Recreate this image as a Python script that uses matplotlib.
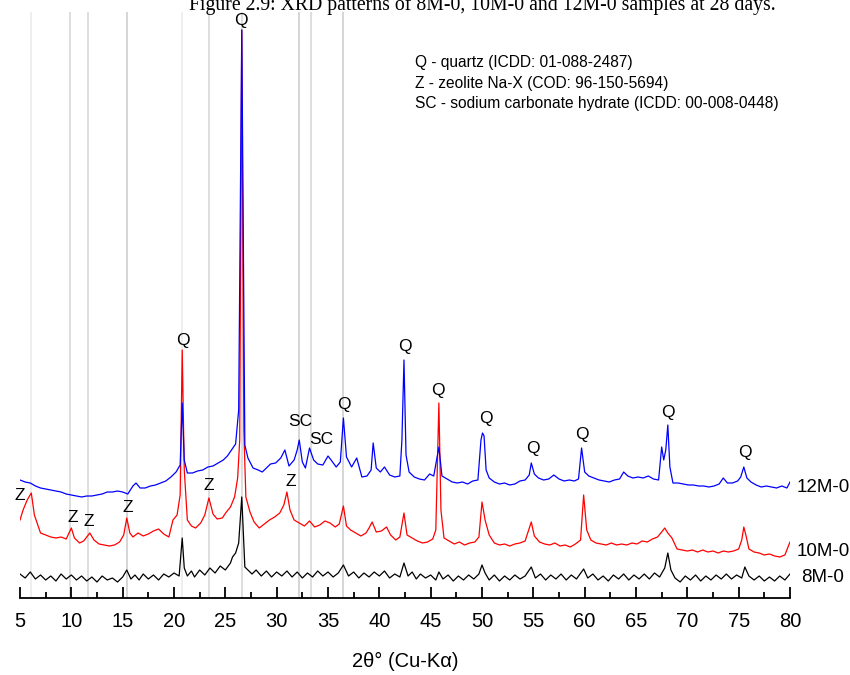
import matplotlib.pyplot as plt
from matplotlib.ticker import MultipleLocator

plt.rcParams['font.family'] = ['Liberation Sans', 'DejaVu Sans']

# 2theta (deg) and stacked intensity (a.u.)
tt_8m = [5.0, 5.5, 6.0, 6.5, 7.0, 7.5, 8.0, 8.5, 9.0, 9.5, 10.0, 10.5, 11.0, 11.5, 12.0, 12.5,
         13.0, 13.5, 14.0, 14.5, 15.0, 15.4, 15.8, 16.2, 16.6, 17.0, 17.5, 18.0, 18.5, 19.0,
         19.5, 20.0, 20.5, 20.8, 21.0, 21.3, 21.7, 22.0, 22.5, 23.0, 23.5, 24.0, 24.5, 25.0,
         25.5, 25.7, 26.0, 26.3, 26.6, 26.9, 27.2, 27.6, 28.0, 28.5, 29.0, 29.5, 30.0, 30.5,
         31.0, 31.5, 32.0, 32.5, 33.0, 33.5, 34.0, 34.5, 35.0, 35.5, 36.0, 36.5, 37.0, 37.5,
         38.0, 38.5, 39.0, 39.5, 40.0, 40.5, 41.0, 41.5, 42.0, 42.4, 42.8, 43.2, 43.6, 44.0,
         44.5, 45.0, 45.5, 45.8, 46.2, 46.7, 47.2, 47.7, 48.2, 48.7, 49.2, 49.7, 50.0, 50.3,
         50.7, 51.2, 51.7, 52.2, 52.7, 53.2, 53.7, 54.2, 54.8, 55.2, 55.7, 56.2, 56.7, 57.2,
         57.7, 58.2, 58.7, 59.2, 59.9, 60.3, 60.8, 61.3, 61.8, 62.3, 62.8, 63.3, 63.8, 64.3,
         64.8, 65.3, 65.8, 66.3, 66.8, 67.3, 67.8, 68.1, 68.4, 68.8, 69.3, 69.8, 70.3, 70.8,
         71.3, 71.8, 72.3, 72.8, 73.3, 73.8, 74.3, 74.8, 75.3, 75.6, 76.0, 76.5, 77.0, 77.5,
         78.0, 78.5, 79.0, 79.5, 80.0]
i_8m = [24, 20, 26, 19, 23, 18, 22, 17, 24, 19, 23, 18, 22, 17, 21, 16,
        22, 18, 20, 16, 21, 28, 19, 23, 18, 24, 19, 23, 18, 24,
        21, 25, 22, 60, 30, 22, 27, 21, 28, 23, 30, 25, 32, 28,
        35, 41, 45, 55, 101, 31, 28, 24, 28, 22, 27, 21, 26, 22,
        27, 21, 26, 20, 25, 21, 27, 22, 26, 21, 25, 33, 22, 26,
        20, 25, 21, 26, 22, 27, 20, 24, 21, 35, 22, 26, 19, 24,
        20, 23, 18, 26, 19, 23, 17, 22, 18, 23, 19, 24, 33, 25,
        18, 23, 17, 22, 18, 23, 19, 22, 31, 20, 24, 18, 23, 19,
        24, 18, 23, 19, 29, 20, 24, 18, 22, 17, 23, 19, 24, 18,
        23, 19, 24, 19, 25, 21, 30, 45, 28, 20, 16, 22, 18, 23,
        17, 22, 18, 23, 19, 24, 19, 23, 20, 31, 22, 18, 22, 17,
        21, 17, 22, 18, 24]

tt_10m = [5.0, 5.3, 5.7, 6.1, 6.4, 7.0, 7.5, 8.0, 8.5, 9.0, 9.5, 10.0, 10.3, 10.8, 11.2, 11.8,
          12.2, 12.7, 13.2, 13.7, 14.2, 14.7, 15.1, 15.4, 15.7, 16.0, 16.5, 17.0, 17.5, 18.0,
          18.5, 19.0, 19.5, 19.9, 20.3, 20.6, 20.8, 21.0, 21.3, 21.7, 22.1, 22.6, 23.0, 23.4,
          23.8, 24.2, 24.7, 25.1, 25.5, 25.9, 26.2, 26.4, 26.6, 26.8, 27.0, 27.4, 27.8, 28.3,
          28.8, 29.3, 29.8, 30.3, 30.7, 31.0, 31.3, 31.7, 32.2, 32.7, 33.2, 33.7, 34.2, 34.7,
          35.2, 35.7, 36.1, 36.5, 36.8, 37.2, 37.7, 38.2, 38.7, 39.0, 39.3, 39.7, 40.2, 40.7,
          41.1, 41.6, 42.0, 42.4, 42.7, 43.2, 43.7, 44.2, 44.7, 45.2, 45.5, 45.8, 46.0, 46.3,
          46.8, 47.3, 47.8, 48.3, 48.8, 49.3, 49.7, 50.0, 50.3, 50.7, 51.2, 51.7, 52.2, 52.7,
          53.2, 53.7, 54.2, 54.8, 55.1, 55.6, 56.1, 56.6, 57.1, 57.6, 58.1, 58.6, 59.1, 59.6,
          59.9, 60.2, 60.6, 61.1, 61.6, 62.1, 62.6, 63.1, 63.6, 64.1, 64.6, 65.1, 65.6, 66.1,
          66.6, 67.1, 67.5, 67.8, 68.1, 68.5, 69.0, 69.5, 70.0, 70.5, 71.0, 71.5, 72.0, 72.5,
          73.0, 73.5, 74.0, 74.5, 75.0, 75.3, 75.5, 75.7, 76.0, 76.5, 77.0, 77.5, 78.0, 78.5,
          79.0, 79.5, 80.0]
i_10m = [78, 88, 98, 105, 83, 65, 63, 61, 60, 61, 59, 70, 60, 55, 57, 65,
         58, 54, 53, 52, 53, 56, 63, 80, 65, 61, 65, 62, 64, 67,
         69, 64, 61, 78, 83, 103, 248, 128, 78, 72, 70, 75, 83, 100,
         84, 79, 80, 86, 91, 101, 120, 158, 568, 168, 101, 86, 76, 70,
         74, 78, 81, 85, 93, 106, 88, 78, 75, 72, 77, 71, 73, 77,
         75, 71, 74, 92, 72, 68, 65, 62, 65, 70, 76, 66, 67, 71,
         63, 58, 61, 85, 63, 60, 57, 55, 56, 59, 68, 195, 88, 60,
         57, 54, 56, 53, 55, 56, 61, 96, 78, 63, 55, 53, 54, 52,
         54, 55, 57, 76, 62, 56, 54, 53, 55, 52, 53, 51, 54, 58,
         103, 68, 58, 55, 54, 53, 55, 53, 54, 53, 55, 54, 57, 56,
         59, 61, 66, 70, 65, 60, 49, 48, 47, 48, 46, 48, 46, 47,
         45, 47, 46, 47, 49, 58, 71, 63, 49, 46, 45, 43, 44, 42,
         41, 43, 56]

tt_12m = [5.0, 5.5, 6.0, 6.5, 7.0, 7.5, 8.0, 8.5, 9.0, 9.5, 10.0, 10.5, 11.0, 11.5, 12.0, 12.5,
          13.0, 13.5, 14.0, 14.5, 15.0, 15.5, 16.0, 16.3, 16.7, 17.2, 17.7, 18.2, 18.7, 19.2,
          19.7, 20.2, 20.6, 20.8, 21.0, 21.3, 21.8, 22.3, 22.8, 23.3, 23.8, 24.3, 24.8, 25.2,
          25.6, 26.0, 26.3, 26.6, 26.9, 27.2, 27.7, 28.2, 28.6, 29.0, 29.4, 29.9, 30.4, 30.8,
          31.2, 31.7, 32.0, 32.2, 32.5, 32.8, 33.2, 33.6, 34.0, 34.5, 35.0, 35.3, 35.8, 36.2,
          36.5, 36.8, 37.3, 37.8, 38.3, 38.8, 39.2, 39.4, 39.7, 40.1, 40.5, 41.0, 41.5, 42.0,
          42.2, 42.4, 42.6, 42.9, 43.4, 43.9, 44.4, 44.9, 45.3, 45.8, 46.1, 46.6, 47.1, 47.6,
          48.1, 48.6, 49.1, 49.6, 49.9, 50.05, 50.2, 50.4, 50.7, 51.2, 51.7, 52.2, 52.7, 53.2,
          53.7, 54.2, 54.6, 54.8, 55.1, 55.5, 56.0, 56.5, 57.0, 57.5, 58.0, 58.5, 59.0, 59.4,
          59.7, 60.0, 60.4, 60.9, 61.4, 61.9, 62.4, 62.9, 63.4, 63.8, 64.2, 64.7, 65.2, 65.7,
          66.2, 66.7, 67.2, 67.5, 67.7, 67.9, 68.1, 68.3, 68.6, 69.1, 69.6, 70.1, 70.6, 71.1,
          71.6, 72.1, 72.6, 73.1, 73.5, 73.9, 74.4, 74.9, 75.2, 75.5, 75.8, 76.2, 76.7, 77.2,
          77.7, 78.2, 78.7, 79.2, 79.7, 80.0]
i_12m = [118, 116, 115, 112, 110, 109, 108, 107, 106, 104, 103, 102, 101, 102, 102, 103,
         104, 106, 106, 107, 106, 104, 112, 115, 110, 110, 112, 113, 115, 117,
         121, 126, 133, 195, 138, 125, 125, 127, 128, 131, 132, 135, 138, 142,
         148, 154, 188, 568, 153, 140, 130, 128, 126, 130, 134, 135, 140, 148,
         132, 138, 148, 158, 136, 130, 150, 138, 134, 133, 142, 138, 131, 136,
         180, 141, 131, 140, 121, 122, 128, 155, 130, 126, 131, 123, 121, 122,
         158, 238, 143, 126, 121, 119, 118, 124, 122, 151, 122, 119, 116, 115,
         116, 114, 117, 118, 158, 165, 162, 128, 120, 116, 114, 115, 113, 114,
         117, 118, 123, 135, 124, 120, 118, 119, 123, 119, 117, 118, 117, 119,
         150, 126, 122, 120, 118, 117, 116, 118, 119, 126, 122, 120, 121, 120,
         122, 119, 118, 151, 138, 148, 173, 131, 115, 115, 114, 113, 113, 112,
         112, 111, 112, 114, 120, 115, 115, 117, 121, 131, 120, 116, 113, 111,
         112, 111, 110, 112, 110, 116]

# reference phase lines (2theta)
ref_lines = [6.04, 9.87, 11.65, 15.45, 20.75, 23.41, 26.6, 32.2, 33.3, 36.43]
ref_shade = ['#ebebeb', '#d8d8d8', '#d8d8d8', '#cfcfcf', '#ebebeb', '#d8d8d8', '#d8d8d8',
             '#cfcfcf', '#d8d8d8', '#cfcfcf']

# peak labels: text, 2theta, height
peak_text = ['Q', 'Q', 'Q', 'SC', 'SC', 'Q', 'Q', 'Q', 'Q', 'Q', 'Q', 'Q',
             'Z', 'Z', 'Z', 'Z', 'Z', 'Z']
peak_x = [26.55, 20.9, 36.5, 32.3, 34.3, 42.5, 45.7, 50.4, 55.0, 59.7, 68.1, 75.6,
          5.0, 10.1, 11.7, 15.5, 23.4, 31.4]
peak_y = [578, 258, 194, 176, 158, 251, 207, 180, 150, 163, 186, 145,
          103, 80, 76, 90, 113, 117]

legend_lines = ['Q - quartz (ICDD: 01-088-2487)',
                'Z - zeolite Na-X (COD: 96-150-5694)',
                'SC - sodium carbonate hydrate (ICDD: 00-008-0448)']

fig = plt.figure(figsize=(8.5, 6.75), dpi=100)
ax = fig.add_axes([20 / 850, 77 / 675, 770 / 850, 586 / 675])

for xv, c in zip(ref_lines, ref_shade):
    ax.axvline(xv, color=c, lw=1.2, zorder=0)

ax.plot(tt_8m, i_8m, color='black', lw=0.9)
ax.plot(tt_10m, i_10m, color='#ff0000', lw=0.9)
ax.plot(tt_12m, i_12m, color='#0000ff', lw=0.9)

for t, xv, yv in zip(peak_text, peak_x, peak_y):
    ax.text(xv, yv, t, ha='center', va='center', fontsize=12.5, clip_on=False)

for k, s in enumerate(legend_lines):
    ax.text(0.513, 0.913 - k * 0.0345, s, transform=ax.transAxes, fontsize=11.2,
            ha='left', va='center')

ax.text(80.6, 111, '12M-0', fontsize=13.5, va='center', ha='left', clip_on=False)
ax.text(80.6, 46, '10M-0', fontsize=13.5, va='center', ha='left', clip_on=False)
ax.text(81.1, 21, '8M-0', fontsize=13.5, va='center', ha='left', clip_on=False)

ax.set_xlim(5, 80)
ax.set_ylim(0, 586)
for side in ['left', 'right', 'top']:
    ax.spines[side].set_visible(False)
ax.spines['bottom'].set_linewidth(1.3)
ax.set_yticks([])
ax.xaxis.set_major_locator(MultipleLocator(5))
ax.xaxis.set_minor_locator(MultipleLocator(2.5))
ax.tick_params(axis='x', which='major', direction='in', length=8, width=1.3,
               labelsize=14.5, pad=10)
ax.tick_params(axis='x', which='minor', direction='in', length=4.5, width=1.3)
ax.set_xlabel('2θ° (Cu-Kα)', fontsize=14.5, labelpad=15)

fig.text(482 / 850, 1 - 10 / 675, 'Figure 2.9: XRD patterns of 8M-0, 10M-0 and 12M-0 samples at 28 days.',
         family='Liberation Serif', fontsize=14.2, ha='center', va='baseline')

fig.savefig('out.png', dpi=100)
